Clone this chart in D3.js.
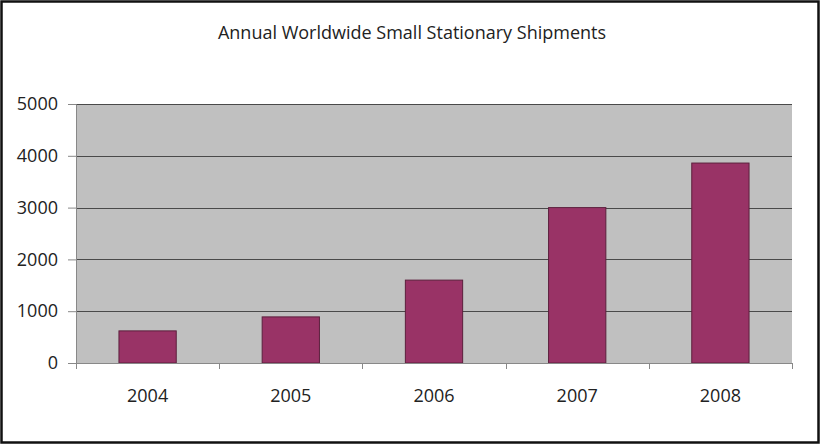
<!DOCTYPE html>
<html>
<head>
<meta charset="utf-8">
<script src="https://cdn.jsdelivr.net/npm/d3@7"></script>
<style>
  body { margin: 0; background: #fff; }
  svg text { font-family: "Open Sans", sans-serif; fill: #222; }
</style>
</head>
<body>
<svg id="chart"></svg>
<script>
var years = ["2004", "2005", "2006", "2007", "2008"];
var shipments = [620, 890, 1600, 3000, 3860];
var yTicks = [0, 1000, 2000, 3000, 4000, 5000];
var title = "Annual Worldwide Small Stationary Shipments";

var width = 820, height = 444;
var margin = {top: 104, right: 28, bottom: 81, left: 76};

var svg = d3.select("#chart")
    .attr("width", width)
    .attr("height", height);

// outer frame
svg.append("rect")
    .attr("x", 1.5).attr("y", 1.5)
    .attr("width", width - 3).attr("height", height - 3)
    .attr("fill", "#fff")
    .attr("stroke", "#111")
    .attr("stroke-width", 2.5);

svg.append("text")
    .attr("x", 412)
    .attr("y", 39)
    .attr("text-anchor", "middle")
    .style("font-size", "18px")
    .text(title);

var x0 = margin.left, x1 = width - margin.right;
var y0 = height - margin.bottom, y1 = margin.top;

var x = d3.scaleBand()
    .domain(years)
    .range([x0, x1])
    .paddingInner(0.6)
    .paddingOuter(0.3);

var y = d3.scaleLinear()
    .domain([0, 5000])
    .range([y0, y1]);

// plot area
svg.append("rect")
    .attr("x", x0).attr("y", y1)
    .attr("width", x1 - x0).attr("height", y0 - y1)
    .attr("fill", "#c0c0c0");

// gridlines
svg.append("g")
  .selectAll("line")
  .data(yTicks.filter(function(d) { return d > 0; }))
  .join("line")
    .attr("x1", x0).attr("x2", x1)
    .attr("y1", function(d) { return Math.round(y(d)) + 0.5; })
    .attr("y2", function(d) { return Math.round(y(d)) + 0.5; })
    .attr("stroke", "#4a4a4a")
    .attr("stroke-width", 1);

// bars
svg.append("g")
  .selectAll("rect")
  .data(shipments)
  .join("rect")
    .attr("x", function(d, i) { return x(years[i]); })
    .attr("y", function(d) { return y(d); })
    .attr("width", x.bandwidth())
    .attr("height", function(d) { return y0 - y(d); })
    .attr("fill", "#993366")
    .attr("stroke", "#5c1f3d")
    .attr("stroke-width", 1);

// y axis
var yAxis = svg.append("g")
    .attr("transform", "translate(" + x0 + ",0)")
    .call(d3.axisLeft(y).tickValues(yTicks).tickSize(8).tickPadding(10).tickFormat(d3.format("d")));
yAxis.select(".domain").attr("stroke", "#888");
yAxis.selectAll(".tick line").attr("stroke", "#888");
yAxis.selectAll("text").style("font-size", "18px").attr("fill", "#222");

// x axis: ticks between categories
var step = x.step();
var bounds = d3.range(years.length + 1).map(function(i) { return x0 + i * step; });
var xAxis = svg.append("g");
xAxis.append("line")
    .attr("x1", x0).attr("x2", x1)
    .attr("y1", y0 + 0.5).attr("y2", y0 + 0.5)
    .attr("stroke", "#888");
xAxis.selectAll(".xt")
  .data(bounds)
  .join("line")
    .attr("class", "xt")
    .attr("x1", function(d) { return Math.round(d) + 0.5; })
    .attr("x2", function(d) { return Math.round(d) + 0.5; })
    .attr("y1", y0).attr("y2", y0 + 6)
    .attr("stroke", "#888");
xAxis.selectAll("text")
  .data(years)
  .join("text")
    .attr("x", function(d) { return x(d) + x.bandwidth() / 2; })
    .attr("y", y0 + 39)
    .attr("text-anchor", "middle")
    .style("font-size", "18px")
    .text(function(d) { return d; });
</script>
</body>
</html>
